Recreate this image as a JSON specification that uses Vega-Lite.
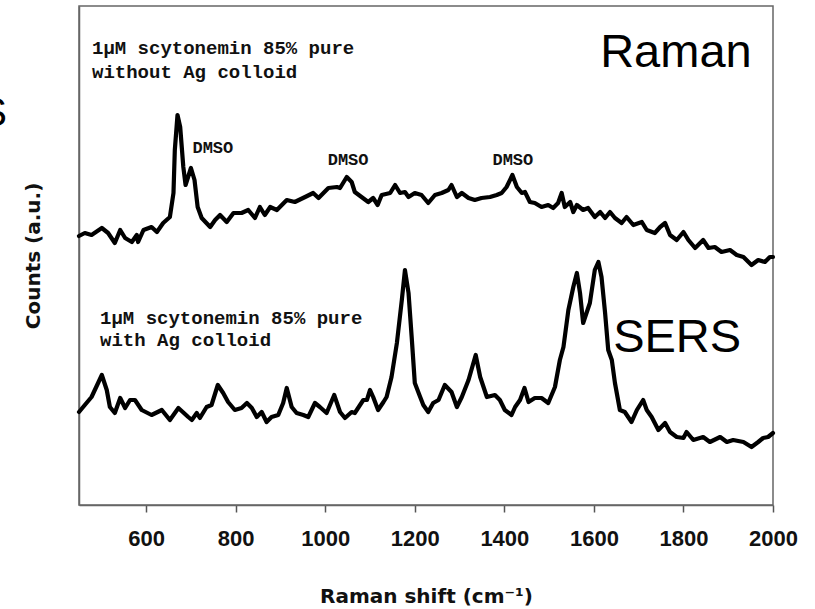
{
  "$schema": "https://vega.github.io/schema/vega-lite/v6.json",
  "width": 694,
  "height": 499,
  "autosize": "none",
  "padding": {"left": 79, "top": 6, "right": 42, "bottom": 104},
  "background": "white",
  "config": {
    "view": {"stroke": "#666", "strokeWidth": 1.5},
    "axis": {"grid": false}
  },
  "datasets": {
    "spectra": [
      {"series":"Raman","shift":450,"counts":269},{"series":"Raman","shift":463,"counts":272},{"series":"Raman","shift":478,"counts":270},{"series":"Raman","shift":501,"counts":277},{"series":"Raman","shift":515,"counts":272},{"series":"Raman","shift":530,"counts":262},{"series":"Raman","shift":542,"counts":275},{"series":"Raman","shift":553,"counts":267},{"series":"Raman","shift":568,"counts":263},{"series":"Raman","shift":579,"counts":270},{"series":"Raman","shift":582,"counts":263},{"series":"Raman","shift":594,"counts":275},{"series":"Raman","shift":612,"counts":278},{"series":"Raman","shift":624,"counts":273},{"series":"Raman","shift":638,"counts":282},{"series":"Raman","shift":653,"counts":288},{"series":"Raman","shift":661,"counts":312},{"series":"Raman","shift":664,"counts":355},{"series":"Raman","shift":670,"counts":390},{"series":"Raman","shift":676,"counts":378},{"series":"Raman","shift":683,"counts":338},{"series":"Raman","shift":688,"counts":320},{"series":"Raman","shift":700,"counts":337},{"series":"Raman","shift":708,"counts":325},{"series":"Raman","shift":715,"counts":298},{"series":"Raman","shift":724,"counts":287},{"series":"Raman","shift":743,"counts":278},{"series":"Raman","shift":754,"counts":285},{"series":"Raman","shift":765,"counts":290},{"series":"Raman","shift":780,"counts":283},{"series":"Raman","shift":795,"counts":292},{"series":"Raman","shift":813,"counts":292},{"series":"Raman","shift":828,"counts":295},{"series":"Raman","shift":843,"counts":287},{"series":"Raman","shift":854,"counts":298},{"series":"Raman","shift":865,"counts":290},{"series":"Raman","shift":877,"counts":298},{"series":"Raman","shift":892,"counts":295},{"series":"Raman","shift":914,"counts":305},{"series":"Raman","shift":932,"counts":303},{"series":"Raman","shift":955,"counts":308},{"series":"Raman","shift":973,"counts":312},{"series":"Raman","shift":985,"counts":307},{"series":"Raman","shift":1007,"counts":317},{"series":"Raman","shift":1026,"counts":318},{"series":"Raman","shift":1033,"counts":317},{"series":"Raman","shift":1048,"counts":328},{"series":"Raman","shift":1059,"counts":323},{"series":"Raman","shift":1066,"counts":313},{"series":"Raman","shift":1081,"counts":308},{"series":"Raman","shift":1096,"counts":303},{"series":"Raman","shift":1107,"counts":307},{"series":"Raman","shift":1117,"counts":300},{"series":"Raman","shift":1126,"counts":310},{"series":"Raman","shift":1145,"counts":312},{"series":"Raman","shift":1156,"counts":320},{"series":"Raman","shift":1167,"counts":312},{"series":"Raman","shift":1178,"counts":313},{"series":"Raman","shift":1186,"counts":308},{"series":"Raman","shift":1200,"counts":312},{"series":"Raman","shift":1215,"counts":310},{"series":"Raman","shift":1230,"counts":302},{"series":"Raman","shift":1245,"counts":310},{"series":"Raman","shift":1260,"counts":312},{"series":"Raman","shift":1275,"counts":315},{"series":"Raman","shift":1282,"counts":320},{"series":"Raman","shift":1294,"counts":308},{"series":"Raman","shift":1305,"counts":312},{"series":"Raman","shift":1320,"counts":307},{"series":"Raman","shift":1334,"counts":305},{"series":"Raman","shift":1349,"counts":307},{"series":"Raman","shift":1368,"counts":308},{"series":"Raman","shift":1383,"counts":310},{"series":"Raman","shift":1394,"counts":312},{"series":"Raman","shift":1405,"counts":318},{"series":"Raman","shift":1418,"counts":330},{"series":"Raman","shift":1428,"counts":318},{"series":"Raman","shift":1439,"counts":312},{"series":"Raman","shift":1446,"counts":313},{"series":"Raman","shift":1457,"counts":303},{"series":"Raman","shift":1468,"counts":302},{"series":"Raman","shift":1483,"counts":298},{"series":"Raman","shift":1498,"counts":300},{"series":"Raman","shift":1509,"counts":297},{"series":"Raman","shift":1520,"counts":302},{"series":"Raman","shift":1528,"counts":312},{"series":"Raman","shift":1535,"counts":298},{"series":"Raman","shift":1547,"counts":303},{"series":"Raman","shift":1554,"counts":293},{"series":"Raman","shift":1562,"counts":300},{"series":"Raman","shift":1576,"counts":295},{"series":"Raman","shift":1587,"counts":297},{"series":"Raman","shift":1602,"counts":288},{"series":"Raman","shift":1614,"counts":293},{"series":"Raman","shift":1625,"counts":287},{"series":"Raman","shift":1636,"counts":293},{"series":"Raman","shift":1647,"counts":287},{"series":"Raman","shift":1662,"counts":282},{"series":"Raman","shift":1673,"counts":288},{"series":"Raman","shift":1688,"counts":280},{"series":"Raman","shift":1707,"counts":283},{"series":"Raman","shift":1718,"counts":275},{"series":"Raman","shift":1736,"counts":272},{"series":"Raman","shift":1748,"counts":278},{"series":"Raman","shift":1759,"counts":282},{"series":"Raman","shift":1770,"counts":270},{"series":"Raman","shift":1785,"counts":265},{"series":"Raman","shift":1800,"counts":273},{"series":"Raman","shift":1811,"counts":265},{"series":"Raman","shift":1826,"counts":257},{"series":"Raman","shift":1844,"counts":265},{"series":"Raman","shift":1856,"counts":257},{"series":"Raman","shift":1870,"counts":258},{"series":"Raman","shift":1885,"counts":253},{"series":"Raman","shift":1904,"counts":255},{"series":"Raman","shift":1919,"counts":250},{"series":"Raman","shift":1934,"counts":248},{"series":"Raman","shift":1952,"counts":240},{"series":"Raman","shift":1967,"counts":245},{"series":"Raman","shift":1982,"counts":243},{"series":"Raman","shift":1993,"counts":248},{"series":"Raman","shift":2000,"counts":248},
      {"series":"SERS","shift":450,"counts":93},{"series":"SERS","shift":463,"counts":100},{"series":"SERS","shift":478,"counts":108},{"series":"SERS","shift":501,"counts":130},{"series":"SERS","shift":512,"counts":115},{"series":"SERS","shift":519,"counts":98},{"series":"SERS","shift":530,"counts":92},{"series":"SERS","shift":542,"counts":107},{"series":"SERS","shift":553,"counts":97},{"series":"SERS","shift":564,"counts":105},{"series":"SERS","shift":575,"counts":105},{"series":"SERS","shift":590,"counts":95},{"series":"SERS","shift":612,"counts":90},{"series":"SERS","shift":635,"counts":95},{"series":"SERS","shift":653,"counts":85},{"series":"SERS","shift":672,"counts":97},{"series":"SERS","shift":694,"counts":88},{"series":"SERS","shift":702,"counts":85},{"series":"SERS","shift":713,"counts":92},{"series":"SERS","shift":720,"counts":87},{"series":"SERS","shift":735,"counts":98},{"series":"SERS","shift":746,"counts":100},{"series":"SERS","shift":760,"counts":120},{"series":"SERS","shift":772,"counts":112},{"series":"SERS","shift":783,"counts":103},{"series":"SERS","shift":798,"counts":95},{"series":"SERS","shift":813,"counts":97},{"series":"SERS","shift":825,"counts":102},{"series":"SERS","shift":836,"counts":97},{"series":"SERS","shift":847,"counts":88},{"series":"SERS","shift":858,"counts":93},{"series":"SERS","shift":869,"counts":83},{"series":"SERS","shift":880,"counts":88},{"series":"SERS","shift":895,"counts":90},{"series":"SERS","shift":906,"counts":102},{"series":"SERS","shift":914,"counts":117},{"series":"SERS","shift":925,"counts":98},{"series":"SERS","shift":936,"counts":92},{"series":"SERS","shift":951,"counts":90},{"series":"SERS","shift":962,"counts":88},{"series":"SERS","shift":977,"counts":102},{"series":"SERS","shift":988,"counts":98},{"series":"SERS","shift":1003,"counts":92},{"series":"SERS","shift":1020,"counts":110},{"series":"SERS","shift":1033,"counts":93},{"series":"SERS","shift":1044,"counts":87},{"series":"SERS","shift":1059,"counts":93},{"series":"SERS","shift":1066,"counts":92},{"series":"SERS","shift":1085,"counts":105},{"series":"SERS","shift":1093,"counts":105},{"series":"SERS","shift":1100,"counts":115},{"series":"SERS","shift":1107,"counts":108},{"series":"SERS","shift":1118,"counts":95},{"series":"SERS","shift":1130,"counts":103},{"series":"SERS","shift":1137,"counts":108},{"series":"SERS","shift":1148,"counts":128},{"series":"SERS","shift":1160,"counts":162},{"series":"SERS","shift":1171,"counts":205},{"series":"SERS","shift":1178,"counts":235},{"series":"SERS","shift":1186,"counts":212},{"series":"SERS","shift":1193,"counts":168},{"series":"SERS","shift":1200,"counts":122},{"series":"SERS","shift":1212,"counts":108},{"series":"SERS","shift":1219,"counts":100},{"series":"SERS","shift":1230,"counts":93},{"series":"SERS","shift":1241,"counts":102},{"series":"SERS","shift":1253,"counts":105},{"series":"SERS","shift":1267,"counts":120},{"series":"SERS","shift":1282,"counts":113},{"series":"SERS","shift":1294,"counts":98},{"series":"SERS","shift":1305,"counts":108},{"series":"SERS","shift":1320,"counts":125},{"series":"SERS","shift":1336,"counts":150},{"series":"SERS","shift":1346,"counts":128},{"series":"SERS","shift":1361,"counts":108},{"series":"SERS","shift":1379,"counts":110},{"series":"SERS","shift":1390,"counts":105},{"series":"SERS","shift":1401,"counts":95},{"series":"SERS","shift":1416,"counts":90},{"series":"SERS","shift":1424,"counts":98},{"series":"SERS","shift":1435,"counts":105},{"series":"SERS","shift":1445,"counts":117},{"series":"SERS","shift":1454,"counts":103},{"series":"SERS","shift":1468,"counts":107},{"series":"SERS","shift":1483,"counts":107},{"series":"SERS","shift":1498,"counts":102},{"series":"SERS","shift":1513,"counts":118},{"series":"SERS","shift":1524,"counts":145},{"series":"SERS","shift":1532,"counts":158},{"series":"SERS","shift":1543,"counts":195},{"series":"SERS","shift":1554,"counts":218},{"series":"SERS","shift":1562,"counts":232},{"series":"SERS","shift":1569,"counts":212},{"series":"SERS","shift":1576,"counts":182},{"series":"SERS","shift":1591,"counts":202},{"series":"SERS","shift":1602,"counts":235},{"series":"SERS","shift":1610,"counts":243},{"series":"SERS","shift":1617,"counts":228},{"series":"SERS","shift":1625,"counts":192},{"series":"SERS","shift":1632,"counts":155},{"series":"SERS","shift":1640,"counts":145},{"series":"SERS","shift":1647,"counts":122},{"series":"SERS","shift":1658,"counts":95},{"series":"SERS","shift":1669,"counts":93},{"series":"SERS","shift":1684,"counts":83},{"series":"SERS","shift":1696,"counts":95},{"series":"SERS","shift":1710,"counts":105},{"series":"SERS","shift":1718,"counts":95},{"series":"SERS","shift":1729,"counts":88},{"series":"SERS","shift":1744,"counts":75},{"series":"SERS","shift":1759,"counts":82},{"series":"SERS","shift":1770,"counts":73},{"series":"SERS","shift":1785,"counts":68},{"series":"SERS","shift":1800,"counts":67},{"series":"SERS","shift":1807,"counts":73},{"series":"SERS","shift":1822,"counts":65},{"series":"SERS","shift":1844,"counts":68},{"series":"SERS","shift":1859,"counts":63},{"series":"SERS","shift":1882,"counts":68},{"series":"SERS","shift":1897,"counts":63},{"series":"SERS","shift":1911,"counts":65},{"series":"SERS","shift":1934,"counts":63},{"series":"SERS","shift":1952,"counts":58},{"series":"SERS","shift":1967,"counts":63},{"series":"SERS","shift":1978,"counts":67},{"series":"SERS","shift":1989,"counts":68},{"series":"SERS","shift":2000,"counts":72}
    ],
    "notes": [
      {"shift":479,"counts":457,"text":"1µM scytonemin 85% pure"},
      {"shift":479,"counts":433,"text":"without Ag colloid"},
      {"shift":497,"counts":187,"text":"1µM scytonemin 85% pure"},
      {"shift":497,"counts":165,"text":"with Ag colloid"}
    ],
    "dmso": [
      {"shift":749,"counts":357,"text":"DMSO"},
      {"shift":1051,"counts":345,"text":"DMSO"},
      {"shift":1419,"counts":345,"text":"DMSO"}
    ],
    "big": [
      {"shift":1614,"counts":438,"text":"Raman"},
      {"shift":1643,"counts":153,"text":"SERS"}
    ],
    "edge": [
      {"shift":289,"counts":379,"text":"S"}
    ]
  },
  "layer": [
    {
      "data": {"name": "spectra"},
      "mark": {"type": "line", "color": "#000", "strokeWidth": 4.2, "strokeJoin": "round", "strokeCap": "round"},
      "encoding": {
        "x": {"field": "shift", "type": "quantitative",
          "scale": {"domain": [450, 2000], "nice": false, "zero": false},
          "axis": {"values": [600, 800, 1000, 1200, 1400, 1600, 1800, 2000], "format": "d",
            "title": "Raman shift (cm⁻¹)", "titleFont": "DejaVu Sans", "titleFontSize": 20, "titleFontWeight": "bold", "titleColor": "#111", "titlePadding": 37,
            "labelFont": "Liberation Sans", "labelFontSize": 22, "labelFontWeight": "bold", "labelColor": "#111", "labelPadding": 16, "labelFlush": false,
            "tickSize": 7, "tickColor": "#555", "tickWidth": 1.5, "domainColor": "#666", "domainWidth": 1.5}},
        "y": {"field": "counts", "type": "quantitative",
          "scale": {"domain": [0, 499], "nice": false, "zero": false},
          "axis": {"title": "Counts (a.u.)", "labels": false, "ticks": false, "titleFont": "DejaVu Sans", "titleFontSize": 20, "titleFontWeight": "bold", "titleColor": "#111", "titlePadding": 36,
            "domainColor": "#666", "domainWidth": 1.5}},
        "detail": {"field": "series"}
      }
    },
    {
      "data": {"name": "notes"},
      "mark": {"type": "text", "font": "Liberation Mono", "fontWeight": "bold", "fontSize": 19, "align": "left", "baseline": "middle", "color": "#111"},
      "encoding": {
        "x": {"field": "shift", "type": "quantitative"},
        "y": {"field": "counts", "type": "quantitative"},
        "text": {"field": "text"}
      }
    },
    {
      "data": {"name": "dmso"},
      "mark": {"type": "text", "font": "Liberation Mono", "fontWeight": "bold", "fontSize": 17, "align": "center", "baseline": "middle", "color": "#111"},
      "encoding": {
        "x": {"field": "shift", "type": "quantitative"},
        "y": {"field": "counts", "type": "quantitative"},
        "text": {"field": "text"}
      }
    },
    {
      "data": {"name": "big"},
      "mark": {"type": "text", "font": "Liberation Sans", "fontSize": 47, "align": "left", "baseline": "alphabetic", "color": "#000"},
      "encoding": {
        "x": {"field": "shift", "type": "quantitative"},
        "y": {"field": "counts", "type": "quantitative"},
        "text": {"field": "text"}
      }
    },
    {
      "data": {"name": "edge"},
      "mark": {"type": "text", "font": "Liberation Sans", "fontSize": 40, "align": "right", "baseline": "alphabetic", "color": "#000"},
      "encoding": {
        "x": {"field": "shift", "type": "quantitative"},
        "y": {"field": "counts", "type": "quantitative"},
        "text": {"field": "text"}
      }
    }
  ]
}
